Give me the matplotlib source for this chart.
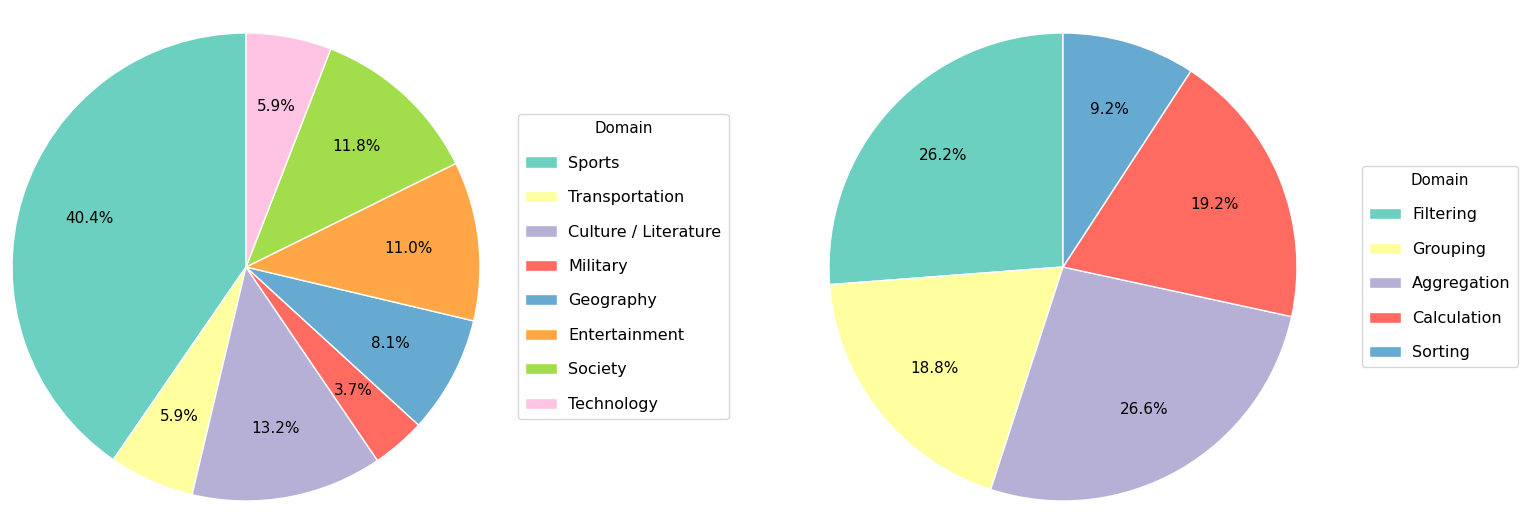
import matplotlib.pyplot as plt

# domain distribution (left pie)
domains = ['Sports', 'Transportation', 'Culture / Literature', 'Military',
           'Geography', 'Entertainment', 'Society', 'Technology']
domain_pct = [40.4, 5.9, 13.2, 3.7, 8.1, 11.0, 11.8, 5.9]

# operation distribution (right pie)
ops = ['Filtering', 'Grouping', 'Aggregation', 'Calculation', 'Sorting']
ops_pct = [26.2, 18.8, 26.6, 19.2, 9.2]

colors = ['#6cd0c0', '#ffff9f', '#b7b0d6', '#ff6b61',
          '#66aad2', '#ffa646', '#a2dd4b', '#ffc4e3']

W, H = 1540, 520
fig = plt.figure(figsize=(W / 100, H / 100), dpi=100)

def draw(cx, labels, vals, leg_x):
    r = 234
    ax = fig.add_axes([(cx - r) / W, (H - 267 - r) / H, 2 * r / W, 2 * r / H])
    wedges, _, autotexts = ax.pie(vals, colors=colors[:len(vals)], startangle=90,
                                  counterclock=True, autopct='%1.1f%%',
                                  pctdistance=0.7,
                                  wedgeprops=dict(edgecolor='white', linewidth=1),
                                  textprops=dict(fontsize=11))
    ax.set_xlim(-1.0, 1.0)
    ax.set_ylim(-1.0, 1.0)
    ax.set_aspect('equal')
    leg = fig.legend(wedges, labels, title='Domain', loc='center left',
                     bbox_to_anchor=(leg_x / W, 1 - 266.5 / H),
                     fontsize=11.5, title_fontsize=10.8, labelspacing=1.22,
                     handlelength=2.0, handleheight=0.7, handletextpad=0.7,
                     borderpad=0.45, borderaxespad=0, frameon=True)
    leg.get_frame().set_edgecolor('#cccccc')
    return ax

draw(246, domains, domain_pct, 518)
draw(1063, ops, ops_pct, 1362)

fig.savefig('out.png', dpi=100)
